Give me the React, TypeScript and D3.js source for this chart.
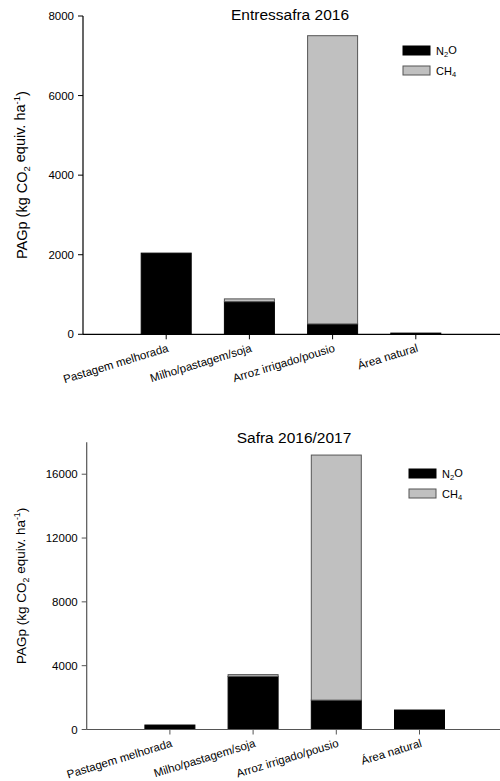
import React from 'react';
import * as d3 from 'd3';

const categories = ['Pastagem melhorada', 'Milho/pastagem/soja', 'Arroz irrigado/pousio', 'Área natural'];

// Entressafra 2016
const n2oEntressafra = [2040, 820, 260, 30];
const ch4Entressafra = [0, 70, 7245, 0];
const ticksEntressafra = [0, 2000, 4000, 6000, 8000];

// Safra 2016/2017
const n2oSafra = [280, 3330, 1840, 1220];
const ch4Safra = [0, 110, 15360, 0];
const ticksSafra = [0, 4000, 8000, 12000, 16000];

const FONT = 'Liberation Sans, Arial, sans-serif';

type PanelProps = {
  title: string;
  n2o: number[];
  ch4: number[];
  ticks: number[];
  yMax: number;
  left: number;
  top: number;
  bottom: number;
  titleX: number;
  titleY: number;
  legendX: number;
  legendY: number;
  labelX: number;
  labelSize: number;
  axisColor: string;
};

function Panel(p: PanelProps) {
  const x = d3.scaleLinear().domain([-1, 4]).range([p.left, p.left + 5 * 83.2]);
  const y = d3.scaleLinear().domain([0, p.yMax]).range([p.bottom, p.top]);
  const bw = 50;
  const stack = d3.stack<number>().keys(['n2o', 'ch4'])
    .value((i, key) => (key === 'n2o' ? p.n2o[i] : p.ch4[i]));
  const series = stack(d3.range(categories.length));
  const fills = ['#000000', '#c0c0c0'];
  const strokes = ['#000000', '#555555'];
  const midY = (p.top + p.bottom) / 2;

  return (
    <g fontFamily={FONT}>
      <text x={p.titleX} y={p.titleY} textAnchor="middle" fontSize={15.5}>{p.title}</text>
      {series.map((s, si) =>
        s.map((d, i) => {
          const h = y(d[0]) - y(d[1]);
          if (h <= 0) return null;
          return (
            <rect key={si + '-' + i} x={x(i) - bw / 2} y={y(d[1])} width={bw} height={h}
              fill={fills[si]} stroke={strokes[si]} strokeWidth={1} />
          );
        })
      )}
      {/* y axis */}
      <line x1={p.left} x2={p.left} y1={p.top} y2={p.bottom} stroke={p.axisColor} strokeWidth={1.2} />
      {p.ticks.map(t => (
        <g key={t}>
          <line x1={p.left - 5} x2={p.left} y1={y(t)} y2={y(t)} stroke={p.axisColor} />
          <text x={p.left - 9} y={y(t)} dy="0.35em" textAnchor="end" fontSize={11.5}>{t}</text>
        </g>
      ))}
      {/* x axis */}
      <line x1={p.left} x2={500} y1={p.bottom} y2={p.bottom} stroke={p.axisColor} strokeWidth={1.2} />
      {categories.map((c, i) => (
        <g key={c}>
          <line x1={x(i)} x2={x(i)} y1={p.bottom} y2={p.bottom + 5} stroke={p.axisColor} />
          <text transform={`translate(${x(i) + 3},${p.bottom + 17}) rotate(-17)`} textAnchor="end" fontSize={11.5}>{c}</text>
        </g>
      ))}
      {/* y label */}
      <text transform={`translate(${p.labelX},${midY}) rotate(-90)`} textAnchor="middle" fontSize={p.labelSize}>
        PAGp (kg CO<tspan dy="0.3em" fontSize={p.labelSize * 0.65}>2</tspan>
        <tspan dy="-0.3em"> equiv. ha</tspan>
        <tspan dy="-0.55em" fontSize={p.labelSize * 0.65}>-1</tspan>
        <tspan dy="0.45em">)</tspan>
      </text>
      {/* legend */}
      <rect x={p.legendX} y={p.legendY} width={27} height={9} fill="#000" stroke="#000" />
      <text x={p.legendX + 33} y={p.legendY + 9} fontSize={11}>
        N<tspan dy="0.3em" fontSize={7.5}>2</tspan><tspan dy="-0.3em">O</tspan>
      </text>
      <rect x={p.legendX} y={p.legendY + 20} width={27} height={9} fill="#c0c0c0" stroke="#555" />
      <text x={p.legendX + 33} y={p.legendY + 29} fontSize={11}>
        CH<tspan dy="0.3em" fontSize={7.5}>4</tspan>
      </text>
    </g>
  );
}

export default function App() {
  return (
    <svg width={500} height={781} style={{ position: 'absolute', left: 0, top: 0 }}>
      <rect width={500} height={781} fill="#fff" />
      <Panel title="Entressafra 2016" n2o={n2oEntressafra} ch4={ch4Entressafra} ticks={ticksEntressafra}
        yMax={8000} left={83} top={16} bottom={334.3} titleX={290} titleY={20}
        legendX={403} legendY={46} labelX={27} labelSize={14.5} axisColor="#000" />
      <Panel title="Safra 2016/2017" n2o={n2oSafra} ch4={ch4Safra} ticks={ticksSafra}
        yMax={18000} left={86.7} top={442.3} bottom={729.5} titleX={294} titleY={443}
        legendX={409} legendY={469} labelX={26} labelSize={13.5} axisColor="#555" />
    </svg>
  );
}
